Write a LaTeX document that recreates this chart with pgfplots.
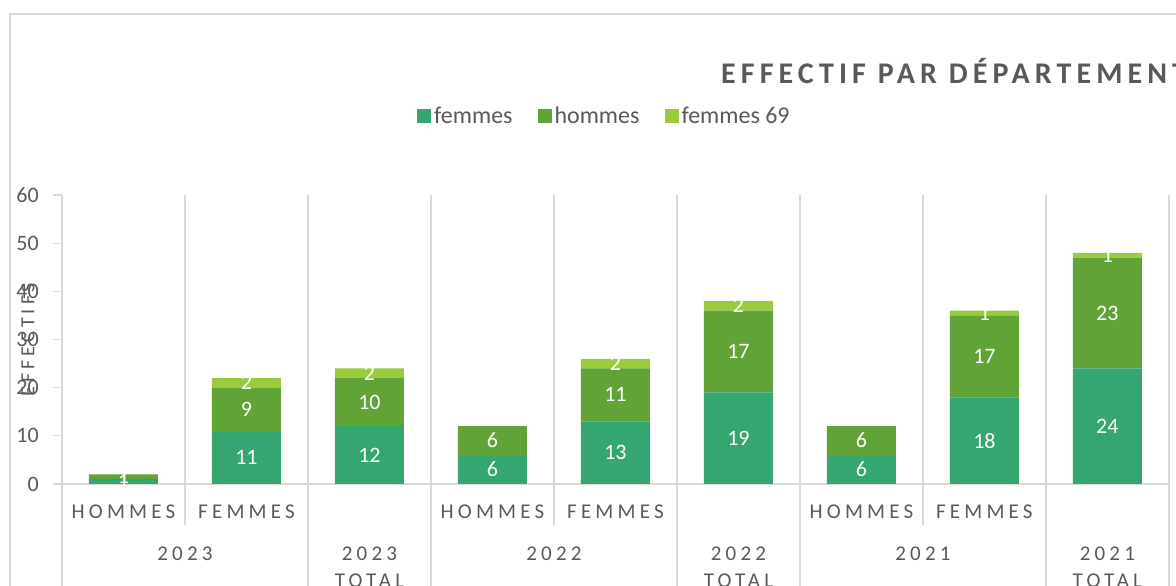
\documentclass[border=0pt]{standalone}
\usepackage{pgfplots}
\pgfplotsset{compat=1.18}
\usepackage{pgfplotstable}
\usepackage{fontspec}
\setmainfont{Carlito}
\newfontfamily\spaced[LetterSpace=20]{Carlito}
\newfontfamily\titlefont[LetterSpace=17]{Carlito}
\definecolor{cF}{HTML}{35A66F}
\definecolor{cH}{HTML}{62A337}
\definecolor{cG}{HTML}{9BCB3C}
\definecolor{txt}{HTML}{595959}
\definecolor{gridc}{HTML}{D9D9D9}

% x f = femmes, h = hommes, g = femmes 69
\pgfplotstableread{
x f h g
0 1 1 0
1 11 9 2
2 12 10 2
3 6 6 0
4 13 11 2
5 19 17 2
6 6 6 0
7 18 17 1
8 24 23 1
}\datatable

\begin{document}
\begin{tikzpicture}
\path[use as bounding box] (0,0) rectangle (1176pt,586pt);
\draw[gridc, line width=1.3pt] (10pt,-5pt) -- (10pt,572pt) -- (1190pt,572pt);
\node[anchor=base west, inner sep=0pt, text=txt, font=\titlefont\bfseries\fontsize{30}{36}\selectfont] at (721pt,502pt) {EFFECTIF PAR DÉPARTEMENT};
\begin{axis}[
  at={(62pt,102pt)}, anchor=south west,
  scale only axis, width=1107pt, height=289pt,
  ybar stacked, bar width=69pt,
  xmin=-0.5, xmax=8.5, ymin=0, ymax=60,
  clip=false,
  axis x line*=bottom, axis y line*=left,
  axis line style={gridc, line width=1.3pt},
  /pgf/number format/assume math mode=true,
  ytick={0,10,...,60},
  tick align=outside, major tick length=9pt, minor tick length=0pt,
  y tick style={gridc, line width=1.3pt},
  x tick style={draw=none},
  yticklabel style={anchor=east, inner sep=0pt, xshift=-14pt, text=txt, font=\fontsize{22}{26}\selectfont},
  xtick={0,...,8},
  xticklabels={HOMMES,FEMMES,{},HOMMES,FEMMES,{},HOMMES,FEMMES,{}},
  xticklabel style={anchor=center, inner sep=0pt, yshift=-19pt, text=txt, font=\spaced\fontsize{21}{27}\selectfont, align=center},
  extra x ticks={0.5,2,3.5,5,6.5,8},
  extra x tick labels={2023,{2023\\TOTAL},2022,{2022\\TOTAL},2021,{2021\\TOTAL}},
  extra x tick style={grid=none, major tick length=0pt, xticklabel style={anchor=north, yshift=-43.7pt}},
  minor xtick={-0.5,0.5,...,8.5},
  xminorgrids=true,
  minor grid style={gridc, line width=1.3pt},
  ylabel={EFFECTIFS},
  ylabel style={at={(axis description cs:-0.0307,0.5)}, anchor=center, text=txt, font=\spaced\fontsize{20}{24}\selectfont},
  legend style={draw=none, fill=none, at={(axis description cs:0.4905,1.2734)}, anchor=center,
    legend columns=3, font=\fontsize{24}{28}\selectfont, text=txt,
    /tikz/every even column/.append style={column sep=22pt}, nodes={inner xsep=3pt}},
  legend image code/.code={\fill[#1] (0pt,-7pt) rectangle (14pt,7pt);},
  point meta=explicit,
  nodes near coords={\pgfmathfloatifflags{\pgfplotspointmeta}{0}{}{\pgfmathprintnumber{\pgfplotspointmeta}}},
  every node near coord/.append style={anchor=center, text=white, font=\fontsize{22}{26}\selectfont},
]
\addplot[fill=cF, draw=none] table[x=x, y=f, meta=f]{\datatable};
\addplot[fill=cH, draw=none] table[x=x, y=h, meta=h]{\datatable};
\addplot[fill=cG, draw=none] table[x=x, y=g, meta=g]{\datatable};
\legend{femmes, hommes, femmes 69}
\pgfplotsinvokeforeach{0.5,3.5,6.5}{\draw[gridc, line width=1.3pt] (axis cs:#1,0) -- ++(0pt,-41pt);}
\pgfplotsinvokeforeach{-0.5,1.5,2.5,4.5,5.5,7.5,8.5}{\draw[gridc, line width=1.3pt] (axis cs:#1,0) -- ++(0pt,-115pt);}
\end{axis}
\end{tikzpicture}
\end{document}
